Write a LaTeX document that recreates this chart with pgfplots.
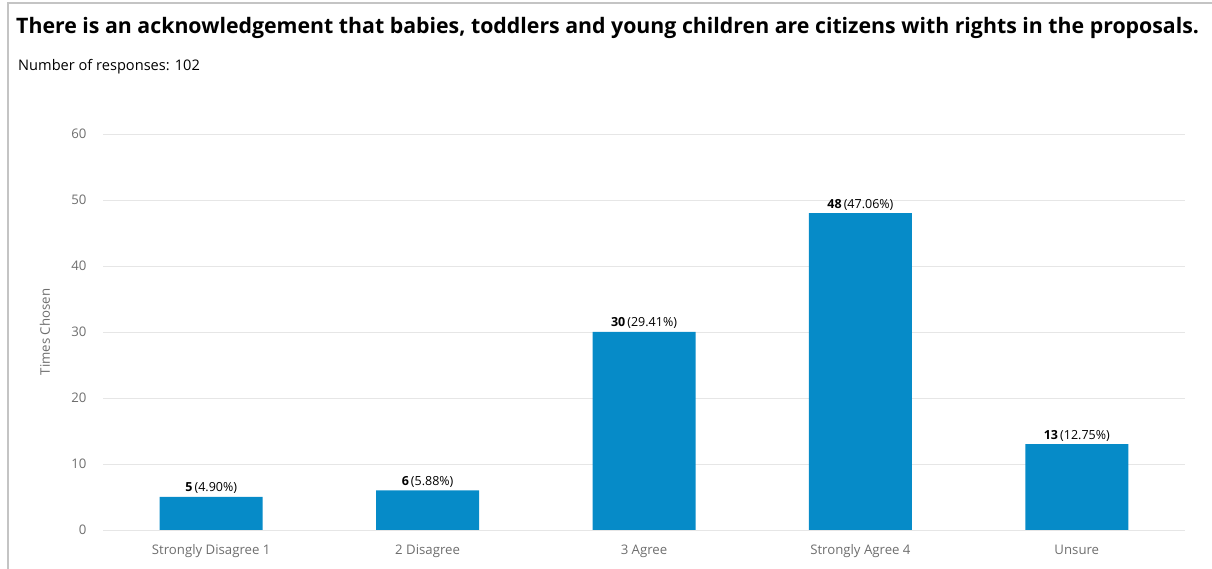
\documentclass[border=0pt]{standalone}
\usepackage{fontspec}
\setmainfont{Open Sans}
\usepackage{pgfplots}
\usepackage{pgfplotstable}
\pgfplotsset{compat=1.18}
\definecolor{barblue}{HTML}{068BC8}
\definecolor{tickgray}{HTML}{6E6E6E}
\definecolor{gridgray}{HTML}{E6E6E6}
\definecolor{framegray}{HTML}{C4C4C4}
\pgfplotstableread[col sep=comma]{
x,y,pct
0,5,4.90
1,6,5.88
2,30,29.41
3,48,47.06
4,13,12.75
}\data
\begin{document}
\begin{tikzpicture}[x=1pt,y=1pt]
\useasboundingbox (0,0) rectangle (1212,569);
\draw[framegray,line width=1.2pt] (8,-5) -- (8,566) -- (1220,566);
\node[anchor=base west,inner sep=0pt,font=\fontsize{21.3}{24}\selectfont\bfseries] at (16,535) {There is an acknowledgement that babies, toddlers and young children are citizens with rights in the proposals.};
\node[anchor=base west,inner sep=0pt,font=\fontsize{14.6}{17}\selectfont] at (18,498) {Number of responses: 102};
\begin{axis}[
  at={(103pt,39pt)}, anchor=south west,
  scale only axis, width=1082pt, height=396pt,
  xmin=-0.5, xmax=4.5, ymin=0, ymax=60,
  ytick={0,10,...,60},
  xtick=data,
  xticklabels={Strongly Disagree 1,2 Disagree,3 Agree,Strongly Agree 4,Unsure},
  axis line style={draw=none},
  major tick style={draw=none},
  ymajorgrids, grid style={gridgray, line width=0.8pt},
  /pgf/number format/assume math mode=true,
  ticklabel style={font=\fontsize{13.2}{15}\selectfont, text=tickgray},
  xticklabel style={yshift=-7pt},
  yticklabel style={xshift=-13pt},
  ylabel={Times Chosen},
  ylabel style={at={(axis description cs:-0.0536,0.5)}, anchor=center, font=\fontsize{13.2}{15}\selectfont, text=tickgray},
  ybar, bar width=103pt,
  nodes near coords={\textbf{\pgfmathprintnumber{\pgfplotspointmeta}}\,(\pgfmathprintnumber[fixed,fixed zerofill,precision=2]{\pct}\%)},
  visualization depends on={\thisrow{pct} \as \pct},
  every node near coord/.append style={font=\fontsize{12.5}{14}\selectfont, text=black, inner sep=1pt, yshift=2pt},
]
\addplot[fill=barblue, draw=none] table[x=x,y=y] {\data};
\end{axis}
\end{tikzpicture}
\end{document}
